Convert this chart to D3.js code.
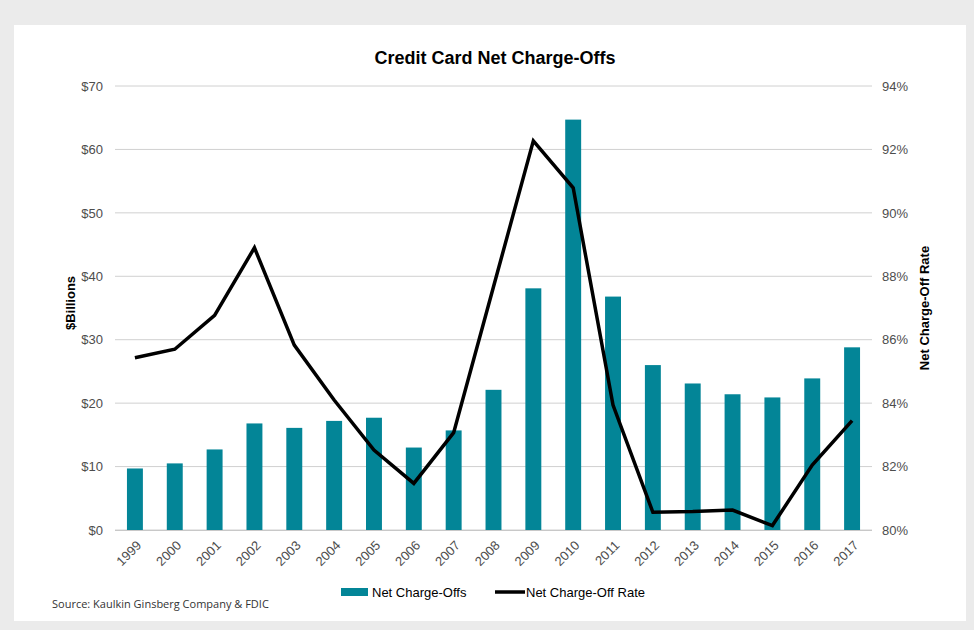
<!DOCTYPE html>
<html>
<head>
<meta charset="utf-8">
<script src="https://cdn.jsdelivr.net/npm/d3@7"></script>
<style>
  body { margin: 0; background: #ebebeb; }
  svg { display: block; font-family: "Liberation Sans", Arial, sans-serif; }
</style>
</head>
<body>
<svg id="chart" width="974" height="630"></svg>
<script>
// data
const years = ["1999","2000","2001","2002","2003","2004","2005","2006","2007","2008",
  "2009","2010","2011","2012","2013","2014","2015","2016","2017"];
const chargeOffs = [9.7, 10.5, 12.7, 16.8, 16.1, 17.2, 17.7, 13.0, 15.7, 22.1,
  38.1, 64.7, 36.8, 26.0, 23.1, 21.4, 20.9, 23.9, 28.8];
const chargeOffRate = [85.43, 85.70, 86.77, 88.90, 85.83, 84.10, 82.52, 81.47, 83.07, 87.67,
  92.27, 90.79, 83.94, 80.56, 80.58, 80.63, 80.14, 82.05, 83.45];
const leftTicks = [0, 10, 20, 30, 40, 50, 60, 70];
const rightTicks = [80, 82, 84, 86, 88, 90, 92, 94];

const svg = d3.select("#chart");
const M = { top: 86, right: 102, bottom: 100, left: 115 };
const W = 974, H = 630;

// white panel
svg.append("rect").attr("x", 14).attr("y", 25).attr("width", 952).attr("height", 596).attr("fill", "#fff");

const x = d3.scaleBand().domain(years).range([M.left, W - M.right]).paddingInner(0.6).paddingOuter(0.3);
const yL = d3.scaleLinear().domain([0, 70]).range([H - M.bottom, M.top]);
const yR = d3.scaleLinear().domain([80, 94]).range([H - M.bottom, M.top]);

// gridlines
svg.append("g")
  .selectAll("line").data(leftTicks).join("line")
  .attr("x1", M.left).attr("x2", W - M.right)
  .attr("y1", d => yL(d)).attr("y2", d => yL(d))
  .attr("stroke", "#d0d0d0").attr("stroke-width", 1);

// left axis
const leftAxis = svg.append("g").attr("transform", "translate(" + M.left + ",0)")
  .call(d3.axisLeft(yL).tickValues(leftTicks).tickSize(0).tickPadding(12).tickFormat(d => "$" + d));
leftAxis.select(".domain").remove();
leftAxis.selectAll("text").attr("fill", "#4d4d4d").style("font-size", "13px");

// right axis
const rightAxis = svg.append("g").attr("transform", "translate(" + (W - M.right) + ",0)")
  .call(d3.axisRight(yR).tickValues(rightTicks).tickSize(0).tickPadding(10).tickFormat(d => d + "%"));
rightAxis.select(".domain").remove();
rightAxis.selectAll("text").attr("fill", "#4d4d4d").style("font-size", "13px");

// bars
svg.append("g").selectAll("rect").data(chargeOffs).join("rect")
  .attr("x", (d, i) => x(years[i]))
  .attr("width", x.bandwidth())
  .attr("y", d => yL(d))
  .attr("height", d => yL(0) - yL(d))
  .attr("fill", "#038597");

// x axis
const xAxis = svg.append("g").attr("transform", "translate(0," + (H - M.bottom) + ")")
  .call(d3.axisBottom(x).tickSize(0));
xAxis.select(".domain").attr("stroke", "#c8c8c8").attr("d", "M" + M.left + ",0.5H" + (W - M.right));
xAxis.selectAll("text")
  .attr("fill", "#4d4d4d").style("font-size", "13px")
  .attr("text-anchor", "end")
  .attr("x", 0).attr("y", 0).attr("dx", 0).attr("dy", "0.35em")
  .attr("transform", "translate(4,13) rotate(-45)");

// rate line
const line = d3.line()
  .x((d, i) => x(years[i]) + x.bandwidth() / 2)
  .y(d => yR(d));
svg.append("path").datum(chargeOffRate)
  .attr("d", line)
  .attr("fill", "none")
  .attr("stroke", "#000")
  .attr("stroke-width", 3.5)
  .attr("stroke-linejoin", "miter");

// title
svg.append("text").attr("x", 495).attr("y", 64).attr("text-anchor", "middle")
  .style("font-size", "18px").style("font-weight", "bold").attr("fill", "#000")
  .text("Credit Card Net Charge-Offs");

// axis titles
svg.append("text").attr("transform", "translate(75,303) rotate(-90)").attr("text-anchor", "middle")
  .style("font-size", "13px").style("font-weight", "bold").attr("fill", "#000")
  .text("$Billions");
svg.append("text").attr("transform", "translate(929,308) rotate(-90)").attr("text-anchor", "middle")
  .style("font-size", "13px").style("font-weight", "bold").attr("fill", "#000")
  .text("Net Charge-Off Rate");

// legend
const legend = svg.append("g");
legend.append("rect").attr("x", 341).attr("y", 588).attr("width", 27).attr("height", 8).attr("fill", "#038597");
legend.append("text").attr("x", 372).attr("y", 597).style("font-size", "13px").attr("fill", "#000").text("Net Charge-Offs");
legend.append("line").attr("x1", 495).attr("x2", 525).attr("y1", 592).attr("y2", 592)
  .attr("stroke", "#000").attr("stroke-width", 3.5);
legend.append("text").attr("x", 526).attr("y", 597).style("font-size", "13px").attr("fill", "#000").text("Net Charge-Off Rate");

// source
svg.append("text").attr("x", 52).attr("y", 608)
  .style("font-family", "'Open Sans', sans-serif").style("font-size", "11px").attr("fill", "#333")
  .text("Source: Kaulkin Ginsberg Company & FDIC");
</script>
</body>
</html>
